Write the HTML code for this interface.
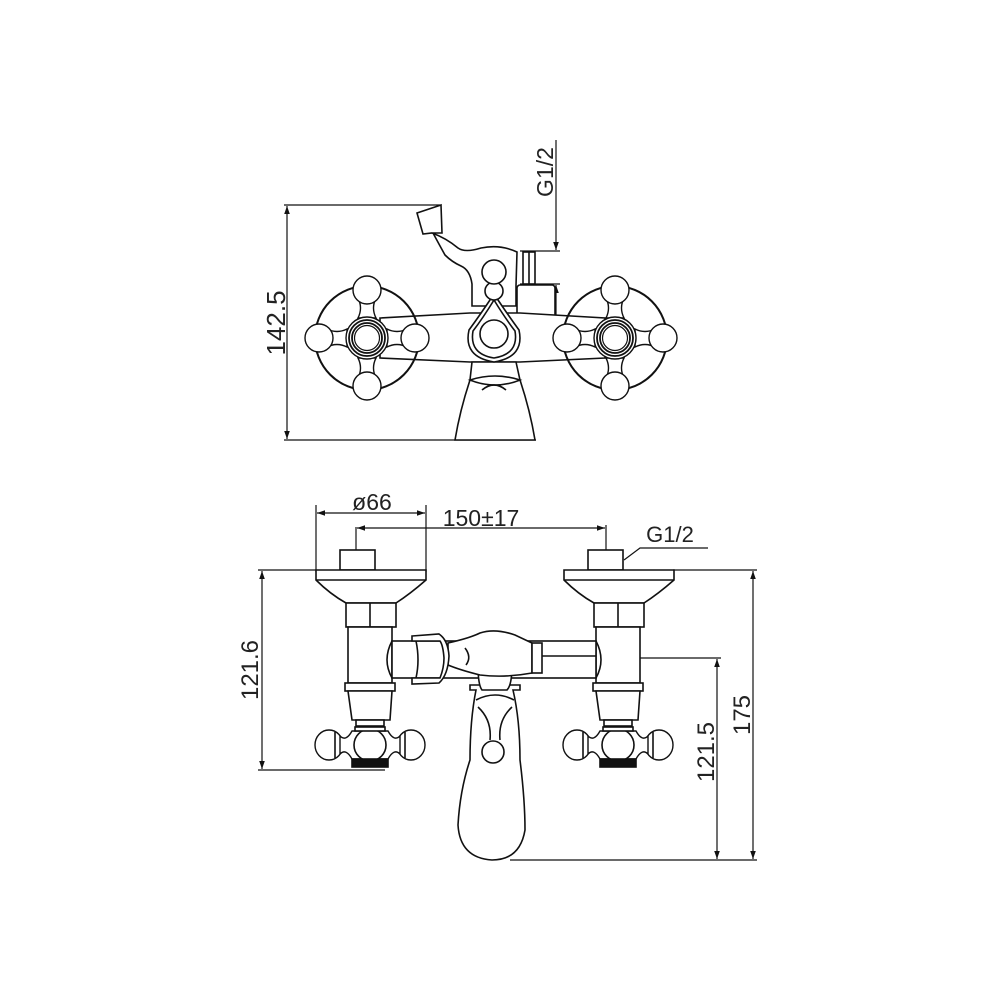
<!DOCTYPE html>
<html><head><style>
html,body{margin:0;padding:0;background:#fff;}
svg{display:block;}
text{font-family:"Liberation Sans",sans-serif;fill:#222;}
</style></head><body>
<svg width="1000" height="1000" viewBox="0 0 1000 1000" xmlns="http://www.w3.org/2000/svg">
<defs>
<marker id="a" viewBox="0 0 10 10" refX="10" refY="5" markerWidth="10" markerHeight="8" orient="auto-start-reverse" markerUnits="userSpaceOnUse"><path d="M0,1.5 L10,5 L0,8.5 z" fill="#111"/></marker>
<g id="cross">
  <circle r="52" fill="none" stroke="#111" stroke-width="2"/>
  <path d="M-9,-20 Q-4,-30 -9,-40 L9,-40 Q4,-30 9,-20 Z M-9,20 Q-4,30 -9,40 L9,40 Q4,30 9,20 Z M-20,-9 Q-30,-4 -40,-9 L-40,9 Q-30,4 -20,9 Z M20,-9 Q30,-4 40,-9 L40,9 Q30,4 20,9 Z" fill="#fff" stroke="#111" stroke-width="1.4"/>
  <circle cx="0" cy="-48" r="14" fill="#fff" stroke="#111" stroke-width="1.4"/>
  <circle cx="0" cy="48" r="14" fill="#fff" stroke="#111" stroke-width="1.4"/>
  <circle cx="-48" cy="0" r="14" fill="#fff" stroke="#111" stroke-width="1.4"/>
  <circle cx="48" cy="0" r="14" fill="#fff" stroke="#111" stroke-width="1.4"/>
  <circle r="21" fill="#fff" stroke="#111" stroke-width="1.4"/>
  <circle r="18" fill="none" stroke="#111" stroke-width="1.8"/>
  <circle r="15" fill="none" stroke="#111" stroke-width="1.8"/>
  <circle r="12.5" fill="none" stroke="#111" stroke-width="1.2"/>
</g>
<g id="sideh">
  <ellipse cx="-41" cy="0" rx="14" ry="15" fill="#fff" stroke="#111" stroke-width="1.4"/>
  <ellipse cx="41" cy="0" rx="14" ry="15" fill="#fff" stroke="#111" stroke-width="1.4"/>
  <line x1="-35" y1="-13" x2="-35" y2="13" stroke="#111"/><line x1="35" y1="-13" x2="35" y2="13" stroke="#111"/>
  <path d="M-30,-9 Q-24,-3 -18,-14 L18,-14 Q24,-3 30,-9 L30,9 Q24,3 18,14 L-18,14 Q-24,3 -30,9 Z" fill="#fff" stroke="#111" stroke-width="1.4"/>
  <circle r="16" fill="#fff" stroke="#111" stroke-width="1.6"/>
  <rect x="-15" y="-18" width="30" height="4" fill="#fff" stroke="#111"/>
  <rect x="-18" y="14" width="36" height="8" fill="#111"/>
</g>
</defs>
<g fill="none" stroke="#111" stroke-width="1.6">
<line x1="284" y1="205" x2="440" y2="205" stroke-width="1.2"/>
<line x1="284" y1="440" x2="536" y2="440" stroke-width="1.2"/>
<line x1="287" y1="206" x2="287" y2="439" stroke-width="1.2" marker-start="url(#a)" marker-end="url(#a)"/>
<line x1="556" y1="140" x2="556" y2="250" stroke-width="1.2" marker-end="url(#a)"/>
<line x1="556" y1="318" x2="556" y2="285" stroke-width="1.2" marker-end="url(#a)"/>
<line x1="520" y1="251" x2="560" y2="251" stroke-width="1.2"/>
<line x1="520" y1="284" x2="560" y2="284" stroke-width="1.2"/>
<path d="M417,213 L441,205 L442,233 L433,233 Q440,246 445,255 Q452,262 461,266 Q470,270 472,284 L472,306 L516,306 L516,286 L517,252 Q500,244 481,248 Q465,253 458,248 Q446,238 432,233 L423,234 Z" fill="#fff"/>
<rect x="523" y="252" width="12" height="32" fill="#fff"/>
<line x1="529" y1="252" x2="529" y2="284"/>
<rect x="517" y="285" width="38" height="33" rx="3" fill="#fff"/>
<path d="M380,318 L470,313 L520,313 L605,318 L605,358 L520,362 L470,362 L380,358 Z" fill="#fff"/>
<path d="M472,362 L516,362 L520,380 Q530,410 535,440 L455,440 Q460,410 470,380 Z" fill="#fff"/>
<path d="M470,380 Q495,372 520,380 Q508,385 495,385 Q482,385 470,380Z" fill="#fff"/>
<path d="M482,390 Q494,380 506,390" />
<path d="M494,294 Q480,315 469,330 Q463,357 494,362 Q525,357 519,330 Q508,315 494,294 Z" fill="#fff"/>
<path d="M494,300 Q483,318 473,331 Q469,354 494,358 Q519,354 515,331 Q505,318 494,300 Z"/>
<circle cx="494" cy="334" r="14" fill="#fff"/>
<circle cx="494" cy="291" r="9" fill="#fff"/>
<circle cx="494" cy="272" r="12" fill="#fff"/>
<use href="#cross" x="367" y="338"/>
<use href="#cross" x="615" y="338"/>

<line x1="316" y1="505" x2="316" y2="572" stroke-width="1.2"/>
<line x1="426" y1="505" x2="426" y2="572" stroke-width="1.2"/>
<line x1="317" y1="513" x2="425" y2="513" stroke-width="1.2" marker-start="url(#a)" marker-end="url(#a)"/>
<line x1="356" y1="527" x2="356" y2="550" stroke-width="1.2"/>
<line x1="606" y1="525" x2="606" y2="550" stroke-width="1.2"/>
<line x1="357" y1="528" x2="605" y2="528" stroke-width="1.2" marker-start="url(#a)" marker-end="url(#a)"/>
<polyline points="624,560 640,548 708,548" stroke-width="1.2"/>
<line x1="258" y1="570" x2="316" y2="570" stroke-width="1.2"/>
<line x1="258" y1="770" x2="385" y2="770" stroke-width="1.2"/>
<line x1="262" y1="571" x2="262" y2="769" stroke-width="1.2" marker-start="url(#a)" marker-end="url(#a)"/>
<line x1="673" y1="570" x2="757" y2="570" stroke-width="1.2"/>
<line x1="510" y1="860" x2="757" y2="860" stroke-width="1.2"/>
<line x1="753" y1="571" x2="753" y2="859" stroke-width="1.2" marker-start="url(#a)" marker-end="url(#a)"/>
<line x1="540" y1="658" x2="721" y2="658" stroke-width="1.2"/>
<line x1="717" y1="659" x2="717" y2="859" stroke-width="1.2" marker-start="url(#a)" marker-end="url(#a)"/>

<g id="col">
<rect x="340" y="550" width="35" height="20" fill="#fff"/>
<path d="M316,570 L426,570 L426,580 Q410,594 396,603 L346,603 Q330,594 316,580 Z" fill="#fff"/>
<line x1="316" y1="580" x2="426" y2="580"/>
<rect x="346" y="603" width="50" height="24" fill="#fff"/>
<line x1="370" y1="603" x2="370" y2="627"/>
<rect x="348" y="627" width="44" height="56" fill="#fff"/>
<rect x="345" y="683" width="50" height="8" fill="#fff"/>
<path d="M348,691 L392,691 L390,720 L352,720 Z" fill="#fff"/>
<rect x="356" y="720" width="28" height="6" fill="#fff"/>
</g>
<use href="#col" x="248"/>
<rect x="392" y="641" width="204" height="37" fill="#fff"/>
<path d="M392,641 Q382,660 392,678 M596,641 Q606,660 596,678"/>
<line x1="540" y1="656" x2="596" y2="656"/>
<path d="M470,685 L520,685 L520,690 L513,690 Q520,720 520,760 Q525,800 525,830 Q520,860 492,860 Q460,858 458,825 Q460,790 470,760 Q470,720 476,690 L470,690 Z" fill="#fff"/>
<path d="M476,700 Q495,690 514,700 M478,707 Q492,720 490,740 M512,707 Q498,720 500,740"/>
<circle cx="493" cy="752" r="11" fill="#fff"/>
<path d="M478,665 Q478,685 482,690 L507,690 Q512,685 512,665 Z" fill="#fff"/>
<path d="M448,643 Q470,638 480,633 Q495,628 515,635 L532,643 L532,673 Q505,678 480,675 Q460,670 448,665 Z" fill="#fff"/>
<path d="M465,648 Q472,657 466,665"/>
<rect x="532" y="643" width="10" height="30" fill="#fff"/>
<path d="M412,636 L439,634 Q448,640 449,656 Q448,675 439,683 L412,684 L412,678 L440,678 Q444,668 444,658 Q443,645 440,641 L412,641 Z" fill="#fff"/>
<path d="M416,641 Q420,660 416,678"/>
<use href="#sideh" x="370" y="745"/>
<use href="#sideh" x="618" y="745"/>
</g>
<text font-size="26" transform="translate(285,323) rotate(-90)" text-anchor="middle">142.5</text>
<text font-size="23" transform="translate(553,172) rotate(-90)" text-anchor="middle">G1/2</text>
<text x="372" y="510" font-size="23" text-anchor="middle">ø66</text>
<text x="481" y="526" font-size="23" text-anchor="middle">150±17</text>
<text x="670" y="542" font-size="22" text-anchor="middle">G1/2</text>
<text font-size="24" transform="translate(258,670) rotate(-90)" text-anchor="middle">121.6</text>
<text font-size="24" transform="translate(750,715) rotate(-90)" text-anchor="middle">175</text>
<text font-size="24" transform="translate(714,752) rotate(-90)" text-anchor="middle">121.5</text>
</svg>
</body></html>
